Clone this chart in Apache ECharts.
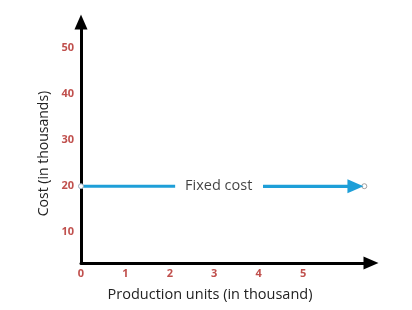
<!DOCTYPE html>
<html><head><meta charset="utf-8">
<script src="https://cdn.jsdelivr.net/npm/echarts@6/dist/echarts.min.js"></script>
<style>html,body{margin:0;padding:0;background:#fff}#c{width:412px;height:310px}</style>
</head><body><div id="c"></div>
<script>
const xTicks = [0, 1, 2, 3, 4, 5];
const yTicks = [10, 20, 30, 40, 50];
const fixedCost = 20;
const lineLeft = [[0, fixedCost], [2.12, fixedCost]];
const lineRight = [[4.1, fixedCost], [6.18, fixedCost]];
const endPoint = [[6.38, fixedCost]];
const labelPoint = [[3.1, fixedCost]];
const labelText = 'Fixed cost';

const blue = '#1e9fd8';
const red = '#c0504d';
const font = 'Open Sans';

const chart = echarts.init(document.getElementById('c'));
chart.setOption({
  animation: false,
  grid: {left: 81, right: 41, top: 22, bottom: 47},
  xAxis: {
    type: 'value', min: 0, max: 6.53,
    splitLine: {show: false},
    axisLine: {lineStyle: {color: '#000', width: 3}, symbol: ['none', 'triangle'], symbolSize: [13, 15]},
    axisTick: {show: false},
    axisLabel: {customValues: xTicks, color: red, fontSize: 11, fontFamily: font, fontWeight: 'bold', margin: 5},
    name: 'Production units (in thousand)', nameLocation: 'middle', nameGap: 24,
    nameTextStyle: {color: '#222', fontSize: 14.5, fontFamily: font, padding: [0, 32, 0, 0]}
  },
  yAxis: {
    type: 'value', min: 3.3, max: 55.7,
    splitLine: {show: false},
    axisLine: {lineStyle: {color: '#000', width: 3}, symbol: ['none', 'triangle'], symbolSize: [13, 15]},
    axisTick: {show: false},
    axisLabel: {customValues: yTicks, color: red, fontSize: 11, fontFamily: font, fontWeight: 'bold', margin: 7},
    name: 'Cost (in thousands)', nameLocation: 'middle', nameGap: 30,
    nameTextStyle: {color: '#222', fontSize: 14, fontFamily: font, padding: [0, 22, 0, 0]}
  },
  series: [
    {type: 'line', data: [
        {value: lineLeft[0], symbol: 'circle'},
        {value: lineLeft[1], symbol: 'none'}
      ],
     lineStyle: {color: blue, width: 3},
     symbolSize: 5, showSymbol: true,
     itemStyle: {color: '#fff', borderColor: '#9ab', borderWidth: 1},
     emphasis: {disabled: true}},
    {type: 'line', data: lineRight, lineStyle: {color: blue, width: 3}, symbol: 'none',
     markLine: {silent: true, symbol: ['none', 'triangle'], symbolSize: [14, 16],
       label: {show: false}, lineStyle: {color: blue, width: 3, type: 'solid'},
       data: [[{coord: lineRight[0]}, {coord: lineRight[1]}]]}},
    {type: 'scatter', data: endPoint, symbol: 'circle', symbolSize: 5,
     itemStyle: {color: '#fff', borderColor: '#888', borderWidth: 1}},
    {type: 'scatter', data: labelPoint, symbolSize: 0,
     label: {show: true, position: 'inside', formatter: labelText, color: '#111', fontSize: 14.5, fontFamily: font}}
  ]
});
</script></body></html>
